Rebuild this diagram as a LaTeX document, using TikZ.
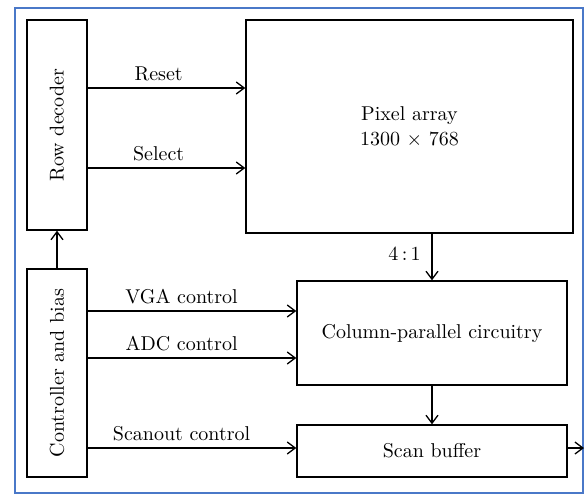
\documentclass[tikz,border=0pt]{standalone}
\usepackage{tikz}
\usetikzlibrary{arrows.meta,positioning}
\definecolor{frameblue}{HTML}{4A78C8}
\tikzset{
  block/.style={draw,line width=.7pt,inner sep=0pt,font=\fontsize{10}{12.5}\selectfont,align=center},
  sig/.style={-{Straight Barb[length=4pt,width=6pt]},line width=.65pt},
  lbl/.style={font=\fontsize{10}{12}\selectfont},
  vtext/.style={rotate=90,font=\fontsize{10}{12}\selectfont}
}

\begin{document}
\begin{tikzpicture}[x=.5pt,y=-.5pt]
  \useasboundingbox (0,0) rectangle (585,495);
  \draw[frameblue,line width=.6pt] (15,8) rectangle (583,493);
  % blocks
  \node[block,minimum width=30pt,minimum height=105pt,label={[vtext]center:Row decoder}] (rowdec) at (57,125) {};
  \node[block,minimum width=30pt,minimum height=104pt,label={[vtext]center:Controller and bias}] (ctrl) at (57,373) {};
  \node[block,minimum width=163.5pt,minimum height=106.5pt] (pix) at (409.5,126.5) {Pixel array\\1300 $\times$ 768};
  \node[block,minimum width=135pt,minimum height=52pt] (col) at (432,333) {Column-parallel circuitry};
  \node[block,minimum width=135pt,minimum height=26pt] (scan) at (432,451) {Scan buffer};
  % signals
  \coordinate (rst) at ([yshift=18.5pt]rowdec.east);
  \coordinate (sel) at ([yshift=-21.5pt]rowdec.east);
  \coordinate (vga) at ([yshift=11pt]col.west);
  \coordinate (adc) at ([yshift=-12.5pt]col.west);
  \coordinate (sbi) at ([yshift=1.5pt]scan.west);
  \coordinate (sbo) at ([yshift=1.5pt]scan.east);
  \coordinate (out) at (584,448);
  \draw[sig] (rst) -- (rst -| pix.west) node[lbl,above,pos=.45] {Reset};
  \draw[sig] (sel) -- (sel -| pix.west) node[lbl,above,pos=.45] {Select};
  \draw[sig] (ctrl.north) -- (rowdec.south);
  \draw[sig] (vga -| ctrl.east) -- (vga) node[lbl,above,pos=.45] {VGA control};
  \draw[sig] (adc -| ctrl.east) -- (adc) node[lbl,above,pos=.45] {ADC control};
  \draw[sig] (sbi -| ctrl.east) -- (sbi) node[lbl,above,pos=.45] {Scanout control};
  \draw[sig] (pix.south -| col.north) -- (col.north) node[lbl,left,pos=.42,xshift=-2pt] {4\,:\,1};
  \draw[sig] (col.south) -- (col.south |- scan.north);
  \draw[sig] (sbo) -- (sbo -| out);
\end{tikzpicture}
\end{document}
